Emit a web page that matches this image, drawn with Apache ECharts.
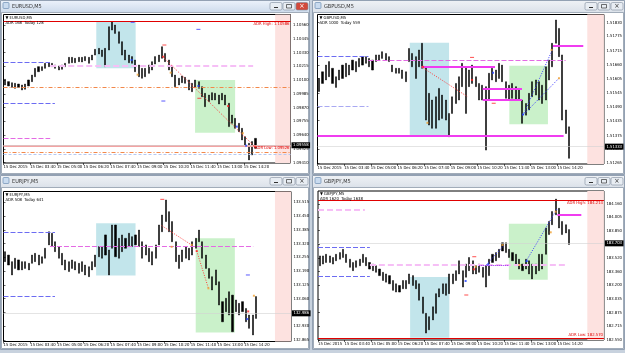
<!DOCTYPE html>
<html>
<head>
<meta charset="utf-8">
<script src="https://cdn.jsdelivr.net/npm/echarts@6/dist/echarts.min.js"></script>
<style>
  html, body { margin: 0; padding: 0; background: #c8d2de; }
  #chart { width: 625px; height: 353px; }
</style>
</head>
<body>
<div id="chart"></div>
<script>
// time axis: 10 minute slots, label every 8 slots
const timeTicks = [0, 8, 16, 24, 32, 40, 48, 56, 64, 72]
const timeLabels = ['15 Dec 2015', '15 Dec 03:40', '15 Dec 05:00', '15 Dec 06:20', '15 Dec 07:40',
  '15 Dec 09:00', '15 Dec 10:20', '15 Dec 11:40', '15 Dec 13:00', '15 Dec 14:20']

// ---- EURUSD ----
const eurusdTicks = ['1.09410', '1.09525', '1.09640', '1.09755', '1.09870', '1.09985', '1.10100', '1.10215', '1.10330', '1.10445', '1.10560']
const eurusdHigh = [1.10106, 1.10087, 1.10078, 1.10073, 1.10067, 1.10059, 1.10067, 1.10101, 1.10142, 1.10198,
  1.10212, 1.10212, 1.10240, 1.10245, 1.10240, 1.10226, 1.10218, 1.10226, 1.10240, 1.10290,
  1.10290, 1.10282, 1.10290, 1.10290, 1.10296, 1.10290, 1.10309, 1.10357, 1.10365, 1.10351,
  1.10365, 1.10546, 1.10588, 1.10560, 1.10504, 1.10421, 1.10351, 1.10309, 1.10296, 1.10268,
  1.10226, 1.10198, 1.10198, 1.10226, 1.10254, 1.10296, 1.10309, 1.10379, 1.10323, 1.10268,
  1.10212, 1.10142, 1.10115, 1.10134, 1.10123, 1.10101, 1.10073, 1.10101, 1.10087, 1.10045,
  1.09989, 1.09975, 1.09995, 1.09989, 1.09975, 1.09989, 1.09975, 1.09906, 1.09808, 1.09780,
  1.09739, 1.09697, 1.09627, 1.09572, 1.09586, 1.09613]
const eurusdLow = [1.10059, 1.10051, 1.10039, 1.10031, 1.10039, 1.10017, 1.10023, 1.10051, 1.10087, 1.10128,
  1.10170, 1.10179, 1.10198, 1.10212, 1.10212, 1.10198, 1.10184, 1.10190, 1.10212, 1.10240,
  1.10245, 1.10245, 1.10254, 1.10251, 1.10262, 1.10240, 1.10268, 1.10309, 1.10318, 1.10296,
  1.10212, 1.10351, 1.10518, 1.10490, 1.10407, 1.10309, 1.10268, 1.10245, 1.10240, 1.10170,
  1.10128, 1.10115, 1.10128, 1.10156, 1.10184, 1.10234, 1.10254, 1.10282, 1.10254, 1.10184,
  1.10128, 1.10045, 1.10059, 1.10078, 1.10073, 1.10017, 1.10003, 1.10039, 1.10031, 1.09961,
  1.09878, 1.09920, 1.09934, 1.09934, 1.09900, 1.09934, 1.09892, 1.09711, 1.09739, 1.09697,
  1.09669, 1.09600, 1.09544, 1.09433, 1.09474, 1.09530]
// [fromSlot, toSlot, lowPrice, highPrice] : asian session, then london session
const eurusdSessions = [[27.8, 39.6, 1.10198, 1.10588], [57.4, 69.4, 1.09660, 1.10101]]
// [fromSlot, toSlot, price, kind, text]
const eurusdLevels = [
  [0, 86, 1.10593, 'adr', 'ADR High: 1.10586'],
  [0, 86, 1.09555, 'adrSoft', 'ADR Low: 1.09526'],
  [0, 86, 1.10036, 'pivot'],
  [0, 86, 1.09499, 'pivot'],
  [0, 86, 1.09480, 'open'],
  [0, 13.9, 1.10245, 'prevHigh'],
  [0, 15.4, 1.09906, 'prevHigh'],
  [0, 14, 1.09614, 'prevMid'],
  [14, 74.8, 1.10220, 'mid'],
  [0, 86, 1.09555, 'price', '1.09558']
]
// [fromSlot, fromPrice, toSlot, toPrice, kind]
const eurusdTrends = [[47.5, 1.10301, 75.4, 1.09541, 'down']]
// [slot, price, kind]
const eurusdMarks = [[38.7, 1.10583, 'dashBuy'], [58.4, 1.10524, 'dashBuy'], [47.9, 1.09925, 'dashBuy'],
  [48.2, 1.10393, 'dashSell'], [58.7, 1.09948, 'dashSell'], [38.4, 1.10268, 'dotBuy'], [40.2, 1.10145, 'dotMid'],
  [47.9, 1.10295, 'dotSell'], [50.1, 1.10162, 'dotMid'], [58.4, 1.10051, 'dotBuy'], [67.3, 1.09883, 'dotSell'],
  [69.9, 1.09711, 'dotBuy'], [71.7, 1.09656, 'dotMid'], [72.7, 1.09552, 'dotBuy'], [75.4, 1.09544, 'dotSell']]

// ---- GBPUSD ----
const gbpusdTicks = ['1.51265', '1.51320', '1.51375', '1.51435', '1.51490', '1.51545', '1.51605', '1.51660', '1.51715', '1.51775', '1.51830']
const gbpusdHigh = [1.51605, 1.51632, 1.51659, 1.51673, 1.51646, 1.51612, 1.51639, 1.51659, 1.51666, 1.51659,
  1.51679, 1.51673, 1.51686, 1.51693, 1.51693, 1.51686, 1.51679, 1.51700, 1.51700, 1.51713,
  1.51706, 1.51693, 1.51659, 1.51646, 1.51646, 1.51639, 1.51632, 1.51726, 1.51706, 1.51693,
  1.51720, 1.51747, 1.51652, 1.51545, 1.51518, 1.51531, 1.51565, 1.51538, 1.51518, 1.51464,
  1.51531, 1.51585, 1.51612, 1.51666, 1.51652, 1.51639, 1.51659, 1.51612, 1.51585, 1.51578,
  1.51572, 1.51626, 1.51646, 1.51639, 1.51666, 1.51659, 1.51592, 1.51578, 1.51585, 1.51572,
  1.51565, 1.51518, 1.51504, 1.51545, 1.51592, 1.51599, 1.51592, 1.51578, 1.51652, 1.51679,
  1.51747, 1.51841, 1.51807, 1.51700, 1.51478, 1.51410]
const gbpusdLow = [1.51552, 1.51585, 1.51599, 1.51612, 1.51585, 1.51569, 1.51599, 1.51605, 1.51612, 1.51619,
  1.51639, 1.51632, 1.51652, 1.51659, 1.51666, 1.51652, 1.51639, 1.51673, 1.51679, 1.51686,
  1.51679, 1.51673, 1.51632, 1.51626, 1.51626, 1.51605, 1.51592, 1.51673, 1.51652, 1.51605,
  1.51652, 1.51646, 1.51437, 1.51417, 1.51404, 1.51404, 1.51437, 1.51444, 1.51437, 1.51370,
  1.51464, 1.51504, 1.51518, 1.51572, 1.51464, 1.51572, 1.51585, 1.51572, 1.51518, 1.51518,
  1.51316, 1.51518, 1.51599, 1.51592, 1.51605, 1.51592, 1.51525, 1.51518, 1.51525, 1.51518,
  1.51518, 1.51424, 1.51457, 1.51478, 1.51531, 1.51538, 1.51518, 1.51504, 1.51518, 1.51599,
  1.51652, 1.51747, 1.51693, 1.51437, 1.51383, 1.51283]
const gbpusdSessions = [[27.7, 39.5, 1.51370, 1.51749], [57.6, 69.2, 1.51420, 1.51656]]
const gbpusdLevels = [
  [0, 73.9, 1.51373, 'range'],
  [15.3, 74.5, 1.51678, 'prevMid'],
  [0, 15.3, 1.51693, 'prevHigh'],
  [0, 15.3, 1.51491, 'prevLow'],
  [31.2, 53.3, 1.51652, 'range'],
  [49.6, 61.4, 1.51564, 'range'],
  [49.6, 61.4, 1.51519, 'range'],
  [70.7, 79.8, 1.51735, 'range'],
  [0, 86, 1.51330, 'price', '1.51333']
]
const gbpusdTrends = [[31.2, 1.51652, 45.1, 1.51531, 'down'], [61.7, 1.51457, 70.5, 1.51720, 'up'], [61.7, 1.51457, 72.5, 1.51606, 'up']]
const gbpusdMarks = [[46.4, 1.51690, 'dashSell'], [52.9, 1.51505, 'dashSell'], [31.7, 1.51652, 'dotSell'],
  [46.4, 1.51599, 'dotSell'], [33, 1.51426, 'dotMid'], [52.7, 1.51628, 'dotBuy'], [61.7, 1.51460, 'dotBuy'],
  [72.5, 1.51606, 'dotMid'], [70.3, 1.51720, 'dotMid']]

// ---- EURJPY ----
const eurjpyTicks = ['132.865', '132.930', '132.995', '133.060', '133.125', '133.190', '133.255', '133.320', '133.385', '133.450', '133.515']
const eurjpyHigh = [133.282, 133.266, 133.235, 133.251, 133.243, 133.235, 133.235, 133.227, 133.266, 133.274,
  133.266, 133.258, 133.298, 133.376, 133.369, 133.329, 133.306, 133.274, 133.243, 133.235,
  133.243, 133.235, 133.227, 133.235, 133.219, 133.211, 133.235, 133.266, 133.306, 133.306,
  133.361, 133.290, 133.408, 133.408, 133.345, 133.361, 133.345, 133.369, 133.353, 133.361,
  133.384, 133.329, 133.314, 133.298, 133.282, 133.314, 133.408, 133.455, 133.526, 133.471,
  133.424, 133.329, 133.266, 133.290, 133.306, 133.298, 133.329, 133.345, 133.384, 133.329,
  133.266, 133.203, 133.164, 133.196, 133.140, 133.046, 133.062, 133.093, 133.077, 133.054,
  133.038, 133.046, 133.014, 132.983, 132.983, 133.070]
const eurjpyLow = [133.235, 133.219, 133.172, 133.203, 133.196, 133.196, 133.203, 133.196, 133.227, 133.235,
  133.219, 133.227, 133.251, 133.314, 133.306, 133.282, 133.251, 133.219, 133.196, 133.188,
  133.203, 133.196, 133.180, 133.188, 133.172, 133.164, 133.196, 133.211, 133.258, 133.251,
  133.266, 133.172, 133.298, 133.258, 133.251, 133.282, 133.298, 133.306, 133.306, 133.314,
  133.306, 133.251, 133.266, 133.235, 133.219, 133.251, 133.314, 133.376, 133.424, 133.376,
  133.329, 133.235, 133.203, 133.235, 133.251, 133.243, 133.266, 133.298, 133.329, 133.251,
  133.203, 133.156, 133.101, 133.125, 133.030, 132.951, 132.999, 132.983, 132.904, 132.999,
  132.983, 132.999, 132.951, 132.920, 132.889, 132.967]
const eurjpySessions = [[27.7, 39.5, 133.169, 133.416], [57.5, 69.2, 132.901, 133.345]]
const eurjpyLevels = [
  [0, 15.4, 133.376, 'prevHigh'],
  [0, 15.4, 133.073, 'prevHigh'],
  [13.9, 74.7, 133.309, 'prevMid'],
  [0, 86, 132.991, 'price', '132.986']
]
const eurjpyTrends = [[47.3, 133.405, 56.6, 133.310, 'down'], [57.8, 133.285, 61.3, 133.109, 'down']]
const eurjpyMarks = [[73.1, 133.172, 'dashBuy'], [47.5, 133.529, 'dashSell'], [56.3, 133.314, 'dotMid'],
  [57.8, 133.285, 'dotSell'], [61.3, 133.109, 'dotMid'], [50.3, 133.305, 'dotMid'], [73.2, 133.000, 'dotSell'],
  [72.9, 132.964, 'dotBuy'], [74.9, 133.074, 'dotMid']]

// ---- GBPJPY ----
const gbpjpyTicks = ['182.550', '182.715', '182.875', '183.035', '183.200', '183.360', '183.520', '183.685', '183.850', '184.005', '184.160']
const gbpjpyHigh = [183.548, 183.548, 183.567, 183.548, 183.529, 183.567, 183.587, 183.626, 183.567, 183.509,
  183.470, 183.490, 183.509, 183.567, 183.529, 183.470, 183.451, 183.431, 183.392, 183.353,
  183.334, 183.314, 183.256, 183.217, 183.197, 183.256, 183.256, 183.334, 183.314, 183.256,
  183.217, 183.061, 182.866, 182.827, 182.944, 183.100, 183.158, 183.217, 183.217, 183.334,
  183.334, 183.373, 183.490, 183.373, 183.451, 183.529, 183.490, 183.431, 183.451, 183.412,
  183.431, 183.509, 183.567, 183.587, 183.626, 183.704, 183.704, 183.626, 183.587, 183.567,
  183.509, 183.451, 183.509, 183.490, 183.451, 183.451, 183.567, 183.567, 183.879, 183.957,
  184.074, 184.222, 184.113, 183.957, 183.918, 183.860]
const gbpjpyLow = [183.431, 183.451, 183.470, 183.470, 183.451, 183.490, 183.509, 183.529, 183.470, 183.412,
  183.373, 183.412, 183.431, 183.470, 183.431, 183.392, 183.373, 183.353, 183.314, 183.256,
  183.236, 183.217, 183.139, 183.119, 183.119, 183.158, 183.158, 183.217, 183.197, 183.158,
  183.022, 182.866, 182.632, 182.671, 182.788, 182.866, 183.061, 183.100, 183.080, 183.100,
  183.217, 183.256, 183.334, 183.178, 183.295, 183.373, 183.334, 183.334, 183.353, 183.295,
  183.178, 183.314, 183.470, 183.490, 183.529, 183.606, 183.587, 183.529, 183.490, 183.451,
  183.392, 183.373, 183.392, 183.334, 183.275, 183.334, 183.373, 183.392, 183.567, 183.801,
  183.918, 184.035, 183.879, 183.801, 183.821, 183.684]
const gbpjpySessions = [[27.7, 39.5, 182.577, 183.297], [57.4, 69.1, 183.265, 183.930]]
const gbpjpyLevels = [
  [0, 86, 184.211, 'adr', 'ADR High: 184.214'],
  [0, 86, 182.570, 'adr', 'ADR Low: 182.570'],
  [0, 14.1, 184.101, 'mid'],
  [0, 15.6, 183.645, 'prevHigh'],
  [0, 15.6, 183.301, 'prevHigh'],
  [15.6, 74.5, 183.440, 'mid'],
  [72, 79.2, 184.033, 'range'],
  [0, 86, 183.697, 'price', '183.703']
]
const gbpjpyTrends = [[48.5, 183.440, 57.4, 183.440, 'flat'], [62.5, 183.479, 72, 184.113, 'up'], [50.6, 183.440, 56, 183.677, 'up']]
const gbpjpyMarks = [[47, 183.538, 'dashSell'], [44.6, 183.084, 'dashSell'], [44.4, 183.250, 'dotBuy'],
  [46.9, 183.389, 'dotSell'], [47.4, 183.420, 'dotMid'], [51.2, 183.448, 'dotBuy'], [55.5, 183.677, 'dotMid'],
  [60.6, 183.440, 'dotMid'], [62.8, 183.487, 'dotBuy'], [70, 183.828, 'dotMid'], [71.5, 184.072, 'dotMid']]

// ---- layout & styles ----
const SLOTS = 86
const FONT = "'Liberation Sans Narrow', 'DejaVu Sans Condensed', 'Liberation Sans', sans-serif"
const sessionColors = ['rgba(183, 225, 232, 0.85)', 'rgba(196, 240, 196, 0.9)']
const levelStyles = {
  adr: { color: '#e00000', width: 1, type: 'solid' },
  adrSoft: { color: '#f3a3a3', width: 2, type: 'solid' },
  prevHigh: { color: '#6c6cf2', width: 1, type: [5, 2] },
  prevLow: { color: '#a9a9f2', width: 1, type: [5, 2] },
  prevMid: { color: '#e46ae4', width: 1, type: [5, 2] },
  mid: { color: '#f6bff6', width: 2, type: [6, 3] },
  pivot: { color: '#f2884a', width: 1, type: [4, 2, 1, 2] },
  open: { color: '#b5c8f2', width: 1, type: [3, 2] },
  range: { color: '#f03cf0', width: 2, type: 'solid' },
  price: { color: '#d2d2d2', width: 0.6, type: 'solid' }
}
const trendStyles = {
  down: { color: '#ff3a3a', width: 1, type: [1, 1.5] },
  up: { color: '#3a3aff', width: 1, type: [1, 1.5] },
  flat: { color: '#9a20f0', width: 1, type: [1, 1] }
}
const markStyles = {
  dashSell: { color: '#ff2020', size: [4, 1] },
  dashBuy: { color: '#3030ff', size: [4, 1] },
  dotSell: { color: '#ff2020', size: [2, 2] },
  dotBuy: { color: '#2040ff', size: [2, 2] },
  dotMid: { color: '#f0a030', size: [2, 2] }
}

const panels = [
  { title: 'EURUSD,M5', info: 'ADR 168  Today 128', active: true, win: [0, 0, 310, 175], plot: [3.5, 14.5, 287, 148.5],
    min: 1.09407, max: 1.10648, band: 81.4, ticks: eurusdTicks, hi: eurusdHigh, lo: eurusdLow,
    sessions: eurusdSessions, levels: eurusdLevels, trends: eurusdTrends, marks: eurusdMarks },
  { title: 'GBPUSD,M5', info: 'ADR 1000  Today 559', win: [312, 0, 313, 175], plot: [317.5, 14.5, 288, 149.5],
    min: 1.51260, max: 1.51863, band: 81, ticks: gbpusdTicks, hi: gbpusdHigh, lo: gbpusdLow,
    sessions: gbpusdSessions, levels: gbpusdLevels, trends: gbpusdTrends, marks: gbpusdMarks },
  { title: 'EURJPY,M5', info: 'ADR 508  Today 641', win: [0, 175, 310, 175], plot: [3.5, 191.5, 287.5, 150],
    min: 132.858, max: 133.566, band: 81.2, ticks: eurjpyTicks, hi: eurjpyHigh, lo: eurjpyLow,
    sessions: eurjpySessions, levels: eurjpyLevels, trends: eurjpyTrends, marks: eurjpyMarks },
  { title: 'GBPJPY,M5', info: 'ADR 1620  Today 1638', win: [312, 175, 313, 175], plot: [318, 191, 287.5, 149],
    min: 182.550, max: 184.318, band: 81, ticks: gbpjpyTicks, hi: gbpjpyHigh, lo: gbpjpyLow,
    sessions: gbpjpySessions, levels: gbpjpyLevels, trends: gbpjpyTrends, marks: gbpjpyMarks }
]

const grid = []
const xAxis = []
const yAxis = []
const series = []
const graphic = []

panels.forEach((p, i) => {
  const [gl, gt, gw, gh] = p.plot
  const tickNums = p.ticks.map(Number)

  grid.push({ left: gl, top: gt, width: gw, height: gh, show: true, borderColor: '#000', borderWidth: 1 })

  xAxis.push({
    type: 'value', gridIndex: i, min: 0, max: SLOTS,
    splitLine: { show: false },
    axisLine: { show: false },
    axisTick: { show: true, customValues: timeTicks, length: 2, lineStyle: { color: '#000', width: 0.6 } },
    axisLabel: {
      customValues: timeTicks, fontSize: 4.2, color: '#000', fontFamily: FONT, align: 'left', margin: 1.5,
      formatter: v => timeLabels[timeTicks.indexOf(v)] || ''
    }
  })

  yAxis.push({
    type: 'value', gridIndex: i, position: 'right', min: p.min, max: p.max,
    splitLine: { show: false },
    axisLine: { show: false },
    axisTick: { show: true, customValues: tickNums, length: 2, lineStyle: { color: '#000', width: 0.6 } },
    axisLabel: {
      customValues: tickNums, fontSize: 4.2, color: '#000', fontFamily: FONT, margin: 2.5,
      formatter: v => {
        let best = 0
        tickNums.forEach((t, k) => { if (Math.abs(t - v) < Math.abs(tickNums[best] - v)) best = k })
        return p.ticks[best]
      }
    }
  })

  const areas = p.sessions.map((s, k) => [
    { coord: [s[0], s[3]], itemStyle: { color: sessionColors[k] } },
    { coord: [s[1], s[2]] }
  ])
  areas.push([{ xAxis: p.band, itemStyle: { color: '#fde2e0' } }, { xAxis: SLOTS }])

  const lines = p.levels.map(lv => {
    const st = levelStyles[lv[3]]
    let label = { show: false }
    if (lv[3] === 'price') {
      label = { show: true, position: 'end', distance: 1, formatter: lv[4], color: '#fff', backgroundColor: '#000',
        padding: [1, 1.5], fontSize: 4.2, fontFamily: FONT }
    } else if (lv[4]) {
      const nearBottom = (lv[2] - p.min) / (p.max - p.min) < 0.05
      label = { show: true, position: nearBottom ? 'insideEndTop' : 'insideEndBottom', distance: 1, formatter: lv[4],
        color: '#e00000', fontSize: 4.2, fontFamily: FONT }
    }
    return [
      { coord: [lv[0], lv[2]], lineStyle: { color: st.color, width: st.width, type: st.type }, label },
      { coord: [lv[1], lv[2]] }
    ]
  })
  p.trends.forEach(t => {
    const st = trendStyles[t[4]]
    lines.push([
      { coord: [t[0], t[1]], lineStyle: { color: st.color, width: st.width, type: st.type }, label: { show: false } },
      { coord: [t[2], t[3]] }
    ])
  })

  series.push({
    type: 'candlestick', xAxisIndex: i, yAxisIndex: i, barWidth: 1.6,
    data: p.lo.map((l, k) => [k + 0.5, l, p.hi[k], l, p.hi[k]]),
    itemStyle: { color: '#000', color0: '#000', borderColor: '#000', borderColor0: '#000', borderWidth: 0.5 },
    markArea: { silent: true, data: areas },
    markLine: { silent: true, symbol: 'none', precision: 5, data: lines }
  })

  series.push({
    type: 'scatter', xAxisIndex: i, yAxisIndex: i, z: 6, silent: true,
    data: p.marks.map(m => ({
      value: [m[0], m[1]], symbol: 'rect', symbolSize: markStyles[m[2]].size,
      itemStyle: { color: markStyles[m[2]].color }
    }))
  })

  // window chrome
  const [wx, wy, ww, wh] = p.win
  graphic.push({ type: 'rect', z: -20, shape: { x: wx + 0.5, y: wy + 0.5, width: ww - 1, height: wh - 1 },
    style: { fill: '#dde5ef', stroke: '#93a1b3', lineWidth: 1 } })
  graphic.push({ type: 'rect', z: -19, shape: { x: wx + 1, y: wy + 1, width: ww - 2, height: 11 },
    style: { fill: new echarts.graphic.LinearGradient(0, 0, 0, 1, [
      { offset: 0, color: p.active ? '#eaf1fa' : '#eef1f5' },
      { offset: 1, color: p.active ? '#cfdcec' : '#dce2ea' }
    ]) } })
  graphic.push({ type: 'rect', z: -18, shape: { x: wx + 1.5, y: wy + 12.5, width: ww - 3, height: wh - 14 },
    style: { fill: '#fff', stroke: '#8d99a8', lineWidth: 0.8 } })
  graphic.push({ type: 'rect', z: -17, shape: { x: wx + 3, y: wy + 2.5, width: 6, height: 6, r: 1 },
    style: { fill: '#c9dbef', stroke: '#5d7fa8', lineWidth: 0.6 } })
  graphic.push({ type: 'text', z: -17, x: wx + 12, y: wy + 6.5,
    style: { text: p.title, fontSize: 5.5, fill: '#333', fontFamily: FONT, verticalAlign: 'middle' } })
  const bx = wx + ww - 40
  ;[0, 1, 2].forEach(k => {
    const isClose = k === 2
    graphic.push({ type: 'rect', z: -17, shape: { x: bx + k * 13, y: wy + 2.5, width: 12, height: 7.5, r: 1.5 },
      style: { fill: isClose && p.active ? '#d2493b' : '#e8edf3', stroke: '#7d8a9b', lineWidth: 0.6 } })
  })
  graphic.push({ type: 'line', z: -16, shape: { x1: bx + 4, y1: wy + 7.5, x2: bx + 8, y2: wy + 7.5 },
    style: { stroke: '#333', lineWidth: 1 } })
  graphic.push({ type: 'rect', z: -16, shape: { x: bx + 13 + 3.5, y: wy + 4.5, width: 5, height: 3.5 },
    style: { fill: 'none', stroke: '#333', lineWidth: 0.7 } })
  graphic.push({ type: 'text', z: -16, x: bx + 26 + 6, y: wy + 6.4,
    style: { text: '×', fontSize: 7, fill: p.active ? '#fff' : '#333', fontFamily: FONT, align: 'center', verticalAlign: 'middle' } })

  // chart caption in the plot corner
  graphic.push({ type: 'text', z: 50, x: gl + 2, y: gt + 1,
    style: { text: '▼ ' + p.title, fontSize: 4.2, fill: '#000', fontFamily: FONT, verticalAlign: 'top' } })
  graphic.push({ type: 'text', z: 50, x: gl + 2, y: gt + 6,
    style: { text: p.info, fontSize: 4.2, fill: '#000', fontFamily: FONT, verticalAlign: 'top' } })
})

const chart = echarts.init(document.getElementById('chart'))
chart.setOption({
  animation: false,
  backgroundColor: '#c8d2de',
  grid, xAxis, yAxis, series, graphic
})
</script>
</body>
</html>
